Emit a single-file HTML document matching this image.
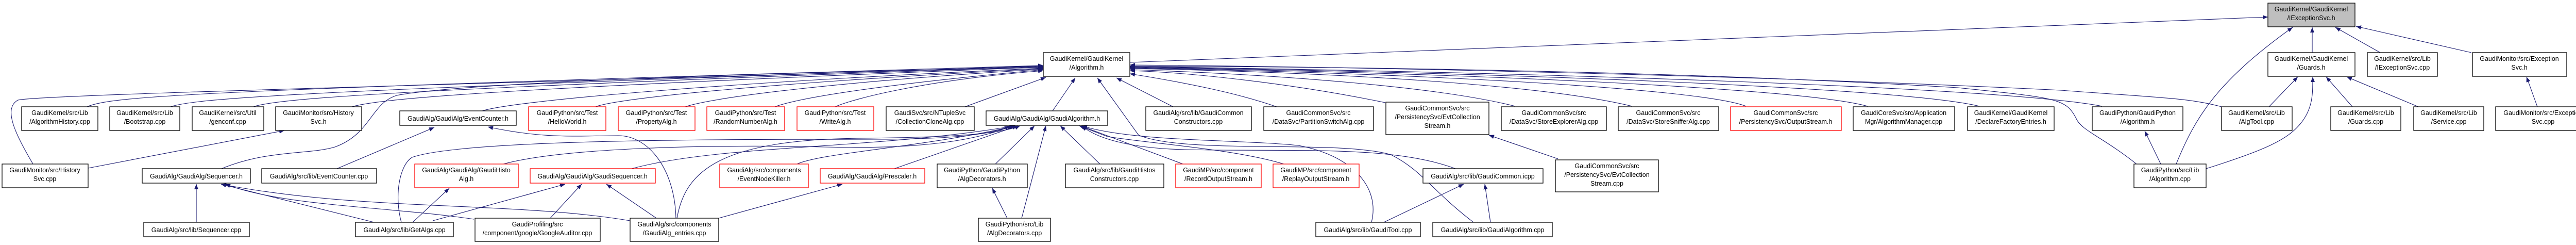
<!DOCTYPE html>
<html><head><meta charset="utf-8"><style>
html,body{margin:0;padding:0;background:#fff;}
svg{display:block;}
text{font-family:"Liberation Sans",sans-serif;font-size:12.5px;fill:#000;text-anchor:middle;}
.b{fill:#fff;stroke:#000;stroke-width:1.3;}
.r{fill:#fff;stroke:#ff0000;stroke-width:1.3;}
.g{fill:#bfbfbf;stroke:#000;stroke-width:1.3;}
.e{fill:none;stroke:#191970;stroke-width:1.1;marker-end:url(#a);}
</style></head><body>
<svg width="5029" height="475" viewBox="0 0 5029 475" xmlns="http://www.w3.org/2000/svg">
<defs><marker id="a" markerUnits="userSpaceOnUse" markerWidth="11" markerHeight="8" refX="10" refY="4" orient="auto"><path d="M0,0 L10,4 L0,8 z" fill="#191970"/></marker></defs>

<!-- edges to IExceptionSvc -->
<path class="e" d="M2193,121 L4402,33"/>
<path class="e" d="M4488,102 L4488,53"/>
<path class="e" d="M4620,102 L4533,53"/>
<path class="e" d="M4797,102 L4573,51"/>
<path class="e" d="M4224,318 C4260,230 4300,160 4450,53"/>
<!-- edges to Guards.h -->
<path class="e" d="M4404,207 L4460,149"/>
<path class="e" d="M4566,207 L4515,149"/>
<path class="e" d="M4694,207 L4555,149"/>
<path class="e" d="M4282,327 C4400,290 4440,270 4465,240 C4490,210 4489,180 4489,149"/>
<path class="e" d="M4925,207 L4904,149"/>
<path class="e" d="M4194,318 L4163,254"/>
<!-- edges to Algorithm.h -->
<path class="e" d="M169,207 C220,185 400,175 2025,127"/>
<path class="e" d="M64,318 C30,260 5,210 35,194 C100,180 1500,150 2025,127"/>
<path class="e" d="M331,207 C380,190 600,175 2025,128"/>
<path class="e" d="M492,207 C540,190 800,172 2025,129"/>
<path class="e" d="M683,207 C740,190 1000,170 2025,130"/>
<path class="e" d="M430,327 C520,290 600,300 650,285 C720,260 720,200 770,185 C900,160 1500,140 2025,131"/>
<path class="e" d="M936,215 C1000,195 1400,160 2025,132"/>
<path class="e" d="M1156,207 C1200,190 1500,160 2025,133"/>
<path class="e" d="M1330,207 C1380,190 1600,160 2025,134"/>
<path class="e" d="M1504,207 C1550,190 1700,165 2025,135"/>
<path class="e" d="M1621,207 C1660,190 1800,155 2025,137"/>
<path class="e" d="M1873,207 L2030,150"/>
<path class="e" d="M2043,215 L2087,151"/>
<path class="e" d="M2860,431 C2780,370 2760,330 2700,300 C2600,270 2300,300 2210,262 L2130,151"/>
<path class="e" d="M2277,207 L2167,151"/>
<path class="e" d="M2478,207 C2400,180 2300,160 2193,143"/>
<path class="e" d="M2689,199 C2500,160 2300,140 2193,137"/>
<path class="e" d="M2941,206 C2800,170 2500,145 2193,135"/>
<path class="e" d="M3168,206 C3000,165 2600,140 2193,133"/>
<path class="e" d="M3389,206 C3300,170 2700,140 2193,132"/>
<path class="e" d="M3625,206 C3500,170 2800,140 2193,131"/>
<path class="e" d="M3842,206 C3700,170 2900,140 2193,130"/>
<path class="e" d="M4080,206 C3900,170 3000,140 2193,129"/>
<path class="e" d="M4147,318 C4080,265 4040,253 4030,230 C4010,190 3990,190 3800,170 C3300,140 2700,130 2193,128"/>
<path class="e" d="M4312,207 C4250,190 4200,190 4000,175 C3500,150 2700,130 2193,126"/>
<!-- edges to GaudiAlgorithm.h -->
<path class="e" d="M1932,318 L2008,244"/>
<path class="e" d="M1983,423 C2000,360 2010,320 2030,244"/>
<path class="e" d="M1955,423 L1926,365"/>
<path class="e" d="M2135,318 L2058,244"/>
<path class="e" d="M2296,318 L2098,244"/>
<path class="e" d="M2492,318 C2400,290 2250,280 2150,265 L2095,244"/>
<path class="e" d="M1736,327 L1975,244"/>
<path class="e" d="M1226,327 C1400,280 1700,290 1970,244"/>
<path class="e" d="M1547,318 C1600,295 1800,285 1970,244"/>
<path class="e" d="M977,318 C1100,285 1400,280 1600,285 C1800,290 1900,270 1965,244"/>
<path class="e" d="M1314,423 C1330,330 1400,270 1676,268 C1850,266 1940,260 1980,244"/>
<path class="e" d="M779,431 C765,380 775,320 800,305 C900,270 1400,270 1700,270 C1850,270 1930,260 1960,244"/>
<path class="e" d="M2825,327 C2700,280 2500,295 2300,290 C2200,288 2130,270 2100,244"/>
<path class="e" d="M2662,431 C2680,360 2620,300 2520,282 C2400,270 2200,275 2100,244"/>
<!-- others -->
<path class="e" d="M1312,423 C1310,330 1260,263 1200,263 C1120,263 1060,270 947,246"/>
<path class="e" d="M1274,423 L1177,357"/>
<path class="e" d="M1395,423 L1635,357"/>
<path class="e" d="M1223,428 C1000,390 700,410 429,357"/>
<path class="e" d="M1068,423 L1129,357"/>
<path class="e" d="M840,428 L1097,357"/>
<path class="e" d="M801,431 L872,365"/>
<path class="e" d="M726,431 L429,357"/>
<path class="e" d="M920,425 C750,400 550,400 437,357"/>
<path class="e" d="M381,431 L381,357"/>
<path class="e" d="M2686,431 L2841,357"/>
<path class="e" d="M2893,431 L2882,357"/>
<path class="e" d="M3024,308 L2890,262"/>
<path class="e" d="M654,327 L843,247"/>
<path class="e" d="M171,326 L552,253"/>

<!-- nodes -->
<rect class="g" x="4402" y="6" width="169" height="46"/><text x="4486" y="22">GaudiKernel/GaudiKernel</text><text x="4486" y="39">/IExceptionSvc.h</text>
<rect class="b" x="2025" y="102" width="168" height="46"/><text x="2109" y="118">GaudiKernel/GaudiKernel</text><text x="2109" y="135">/Algorithm.h</text>
<rect class="b" x="4402" y="102" width="169" height="46"/><text x="4486" y="118">GaudiKernel/GaudiKernel</text><text x="4486" y="135">/Guards.h</text>
<rect class="b" x="4595" y="102" width="136" height="46"/><text x="4663" y="118">GaudiKernel/src/Lib</text><text x="4663" y="135">/IExceptionSvc.cpp</text>
<rect class="b" x="4799" y="102" width="183" height="46"/><text x="4890" y="118">GaudiMonitor/src/Exception</text><text x="4890" y="135">Svc.h</text>

<rect class="b" x="42" y="207" width="148" height="46"/><text x="116" y="223">GaudiKernel/src/Lib</text><text x="116" y="240">/AlgorithmHistory.cpp</text>
<rect class="b" x="213" y="207" width="136" height="46"/><text x="281" y="223">GaudiKernel/src/Lib</text><text x="281" y="240">/Bootstrap.cpp</text>
<rect class="b" x="373" y="207" width="139" height="46"/><text x="442" y="223">GaudiKernel/src/Util</text><text x="442" y="240">/genconf.cpp</text>
<rect class="b" x="535" y="207" width="167" height="46"/><text x="618" y="223">GaudiMonitor/src/History</text><text x="618" y="240">Svc.h</text>
<rect class="b" x="776" y="215" width="226" height="28"/><text x="889" y="234">GaudiAlg/GaudiAlg/EventCounter.h</text>
<rect class="r" x="1026" y="207" width="150" height="46"/><text x="1101" y="223">GaudiPython/src/Test</text><text x="1101" y="240">/HelloWorld.h</text>
<rect class="r" x="1200" y="207" width="149" height="46"/><text x="1274" y="223">GaudiPython/src/Test</text><text x="1274" y="240">/PropertyAlg.h</text>
<rect class="r" x="1372" y="207" width="151" height="46"/><text x="1447" y="223">GaudiPython/src/Test</text><text x="1447" y="240">/RandomNumberAlg.h</text>
<rect class="r" x="1547" y="207" width="149" height="46"/><text x="1621" y="223">GaudiPython/src/Test</text><text x="1621" y="240">/WriteAlg.h</text>
<rect class="b" x="1720" y="207" width="171" height="46"/><text x="1805" y="223">GaudiSvc/src/NTupleSvc</text><text x="1805" y="240">/CollectionCloneAlg.cpp</text>
<rect class="b" x="1914" y="215" width="236" height="28"/><text x="2032" y="234">GaudiAlg/GaudiAlg/GaudiAlgorithm.h</text>
<rect class="b" x="2224" y="207" width="205" height="46"/><text x="2326" y="223">GaudiAlg/src/lib/GaudiCommon</text><text x="2326" y="240">Constructors.cpp</text>
<rect class="b" x="2453" y="207" width="213" height="46"/><text x="2559" y="223">GaudiCommonSvc/src</text><text x="2559" y="240">/DataSvc/PartitionSwitchAlg.cpp</text>
<rect class="b" x="2690" y="198" width="200" height="63"/><text x="2790" y="214">GaudiCommonSvc/src</text><text x="2790" y="231">/PersistencySvc/EvtCollection</text><text x="2790" y="248">Stream.h</text>
<rect class="b" x="2914" y="207" width="204" height="46"/><text x="3016" y="223">GaudiCommonSvc/src</text><text x="3016" y="240">/DataSvc/StoreExplorerAlg.cpp</text>
<rect class="b" x="3141" y="207" width="195" height="46"/><text x="3238" y="223">GaudiCommonSvc/src</text><text x="3238" y="240">/DataSvc/StoreSnifferAlg.cpp</text>
<rect class="r" x="3359" y="207" width="215" height="46"/><text x="3466" y="223">GaudiCommonSvc/src</text><text x="3466" y="240">/PersistencySvc/OutputStream.h</text>
<rect class="b" x="3597" y="207" width="197" height="46"/><text x="3695" y="223">GaudiCoreSvc/src/Application</text><text x="3695" y="240">Mgr/AlgorithmManager.cpp</text>
<rect class="b" x="3819" y="207" width="168" height="46"/><text x="3903" y="223">GaudiKernel/GaudiKernel</text><text x="3903" y="240">/DeclareFactoryEntries.h</text>
<rect class="b" x="4061" y="207" width="176" height="46"/><text x="4149" y="223">GaudiPython/GaudiPython</text><text x="4149" y="240">/Algorithm.h</text>
<rect class="b" x="4312" y="207" width="137" height="46"/><text x="4380" y="223">GaudiKernel/src/Lib</text><text x="4380" y="240">/AlgTool.cpp</text>
<rect class="b" x="4524" y="207" width="136" height="46"/><text x="4592" y="223">GaudiKernel/src/Lib</text><text x="4592" y="240">/Guards.cpp</text>
<rect class="b" x="4685" y="207" width="136" height="46"/><text x="4753" y="223">GaudiKernel/src/Lib</text><text x="4753" y="240">/Service.cpp</text>
<rect class="b" x="4844" y="207" width="184" height="46"/><text x="4936" y="223">GaudiMonitor/src/Exception</text><text x="4936" y="240">Svc.cpp</text>

<rect class="b" x="4" y="318" width="167" height="46"/><text x="87" y="334">GaudiMonitor/src/History</text><text x="87" y="351">Svc.cpp</text>
<rect class="b" x="276" y="327" width="210" height="28"/><text x="381" y="346">GaudiAlg/GaudiAlg/Sequencer.h</text>
<rect class="b" x="508" y="327" width="223" height="28"/><text x="619" y="346">GaudiAlg/src/lib/EventCounter.cpp</text>
<rect class="r" x="805" y="318" width="201" height="46"/><text x="905" y="334">GaudiAlg/GaudiAlg/GaudiHisto</text><text x="905" y="351">Alg.h</text>
<rect class="r" x="1029" y="327" width="243" height="28"/><text x="1150" y="346">GaudiAlg/GaudiAlg/GaudiSequencer.h</text>
<rect class="r" x="1397" y="318" width="172" height="46"/><text x="1483" y="334">GaudiAlg/src/components</text><text x="1483" y="351">/EventNodeKiller.h</text>
<rect class="r" x="1592" y="327" width="203" height="28"/><text x="1693" y="346">GaudiAlg/GaudiAlg/Prescaler.h</text>
<rect class="b" x="1819" y="318" width="175" height="46"/><text x="1906" y="334">GaudiPython/GaudiPython</text><text x="1906" y="351">/AlgDecorators.h</text>
<rect class="b" x="2068" y="318" width="191" height="46"/><text x="2163" y="334">GaudiAlg/src/lib/GaudiHistos</text><text x="2163" y="351">Constructors.cpp</text>
<rect class="r" x="2282" y="318" width="166" height="46"/><text x="2365" y="334">GaudiMP/src/component</text><text x="2365" y="351">/RecordOutputStream.h</text>
<rect class="r" x="2471" y="318" width="167" height="46"/><text x="2554" y="334">GaudiMP/src/component</text><text x="2554" y="351">/ReplayOutputStream.h</text>
<rect class="b" x="2762" y="327" width="233" height="28"/><text x="2878" y="346">GaudiAlg/src/lib/GaudiCommon.icpp</text>
<rect class="b" x="3019" y="310" width="200" height="62"/><text x="3119" y="326">GaudiCommonSvc/src</text><text x="3119" y="343">/PersistencySvc/EvtCollection</text><text x="3119" y="360">Stream.cpp</text>
<rect class="b" x="4142" y="318" width="140" height="46"/><text x="4212" y="334">GaudiPython/src/Lib</text><text x="4212" y="351">/Algorithm.cpp</text>

<rect class="b" x="279" y="431" width="205" height="28"/><text x="381" y="450">GaudiAlg/src/lib/Sequencer.cpp</text>
<rect class="b" x="690" y="431" width="190" height="28"/><text x="785" y="450">GaudiAlg/src/lib/GetAlgs.cpp</text>
<rect class="b" x="922" y="423" width="243" height="45"/><text x="1043" y="439">GaudiProfiling/src</text><text x="1043" y="456">/component/google/GoogleAuditor.cpp</text>
<rect class="b" x="1223" y="423" width="172" height="45"/><text x="1309" y="439">GaudiAlg/src/components</text><text x="1309" y="456">/GaudiAlg_entries.cpp</text>
<rect class="b" x="1899" y="423" width="140" height="45"/><text x="1969" y="439">GaudiPython/src/Lib</text><text x="1969" y="456">/AlgDecorators.cpp</text>
<rect class="b" x="2554" y="431" width="203" height="28"/><text x="2655" y="450">GaudiAlg/src/lib/GaudiTool.cpp</text>
<rect class="b" x="2781" y="431" width="232" height="28"/><text x="2897" y="450">GaudiAlg/src/lib/GaudiAlgorithm.cpp</text>
</svg>
</body></html>
